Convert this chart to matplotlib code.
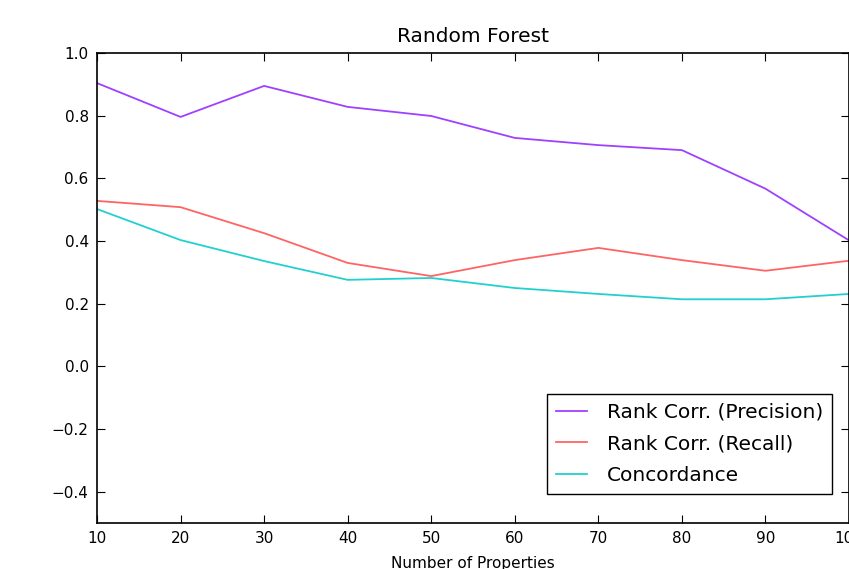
import matplotlib
matplotlib.use("Agg")
import matplotlib.pyplot as plt

num_props = [10, 20, 30, 40, 50, 60, 70, 80, 90, 100]
precision = [0.904, 0.796, 0.895, 0.828, 0.799, 0.729, 0.706, 0.690, 0.567, 0.402]
recall = [0.528, 0.508, 0.425, 0.330, 0.288, 0.339, 0.378, 0.339, 0.305, 0.337]
concordance = [0.502, 0.403, 0.336, 0.276, 0.282, 0.250, 0.231, 0.214, 0.214, 0.231]
labels = ["Rank Corr. (Precision)", "Rank Corr. (Recall)", "Concordance"]
colors = ["#a040ff", "#ff6464", "#22d0d0"]

plt.rcParams['font.family'] = ['DejaVu Sans']
fig = plt.figure(figsize=(8.49, 5.69), dpi=100)
ax = fig.add_axes([97/849, 1-523/569, (849-97)/849, (523-53)/569])

for vals, lab, c in zip([precision, recall, concordance], labels, colors):
    ax.plot(num_props, vals, color=c, lw=1.3, label=lab)

ax.set_xlim(10, 100)
ax.set_ylim(-0.5, 1.0)
ax.set_xticks(num_props)
ax.set_yticks([-0.4, -0.2, 0.0, 0.2, 0.4, 0.6, 0.8, 1.0])
ax.tick_params(direction='in', top=True, right=True, length=6, labelsize=11, pad=6)
for s in ax.spines.values():
    s.set_linewidth(1.2)
ax.set_title("Random Forest", fontsize=14.5, pad=8)
ax.set_xlabel("Number of Properties", fontsize=11, labelpad=7)
leg = ax.legend(loc='lower right', fontsize=14.5, fancybox=False, framealpha=1,
                edgecolor='black', handlelength=1.5, handletextpad=1.0,
                bbox_to_anchor=(1 - 17/752, 29/470), borderaxespad=0.0,
                labelspacing=0.63, borderpad=0.45)
leg.get_frame().set_linewidth(1.0)

fig.savefig("out.png", dpi=100, facecolor='white')
